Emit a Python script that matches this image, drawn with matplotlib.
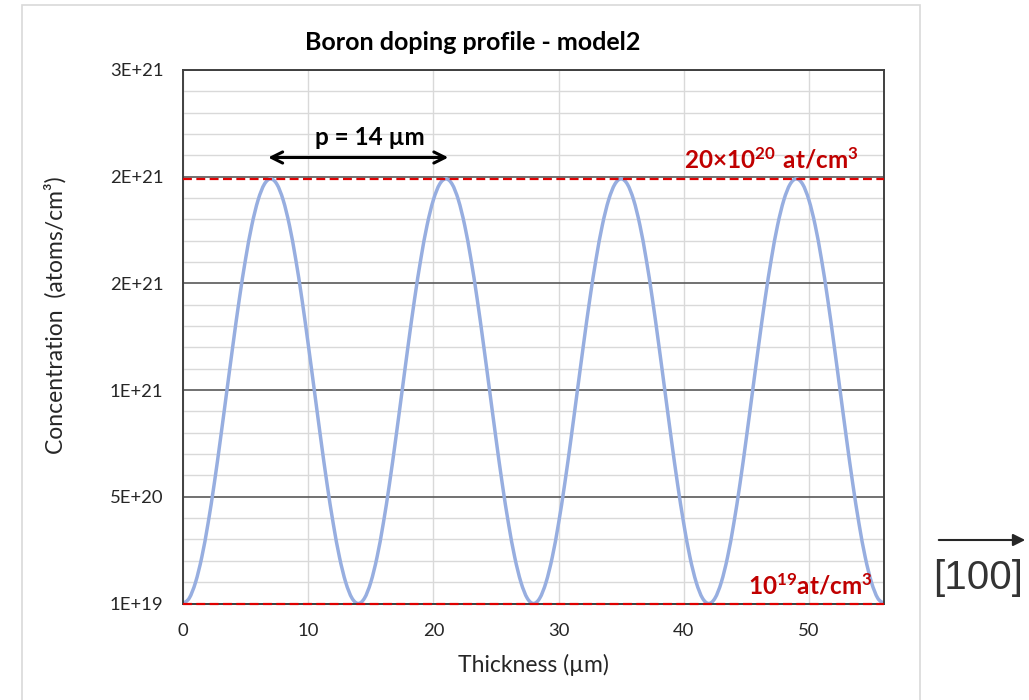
"""
Boron doping profile - model2: periodic concentration along the thickness.
"""

import numpy as np
import matplotlib
matplotlib.use("Agg")
import matplotlib.pyplot as plt
from matplotlib.patches import Rectangle, FancyArrowPatch, PathPatch
from matplotlib.path import Path
from matplotlib.ticker import FixedLocator

plt.rcParams["font.family"] = ["Lato", "DejaVu Sans"]
plt.rcParams["mathtext.fontset"] = "custom"
plt.rcParams["mathtext.rm"] = "Lato"
plt.rcParams["mathtext.bf"] = "Lato:bold"

# thickness sampled every 0.5 um
thickness = np.arange(0, 56.5, 0.5)

# concentration, in units of 1e20 atoms/cm3
conc_e20 = [
    0.10, 0.35, 1.09, 2.27, 3.85, 5.73, 7.84, 10.05, 12.26, 14.37, 16.25, 17.83, 19.01, 19.75,
    20.00, 19.75, 19.01, 17.83, 16.25, 14.37, 12.26, 10.05, 7.84, 5.73, 3.85, 2.27, 1.09, 0.35,
    0.10, 0.35, 1.09, 2.27, 3.85, 5.73, 7.84, 10.05, 12.26, 14.37, 16.25, 17.83, 19.01, 19.75,
    20.00, 19.75, 19.01, 17.83, 16.25, 14.37, 12.26, 10.05, 7.84, 5.73, 3.85, 2.27, 1.09, 0.35,
    0.10, 0.35, 1.09, 2.27, 3.85, 5.73, 7.84, 10.05, 12.26, 14.37, 16.25, 17.83, 19.01, 19.75,
    20.00, 19.75, 19.01, 17.83, 16.25, 14.37, 12.26, 10.05, 7.84, 5.73, 3.85, 2.27, 1.09, 0.35,
    0.10, 0.35, 1.09, 2.27, 3.85, 5.73, 7.84, 10.05, 12.26, 14.37, 16.25, 17.83, 19.01, 19.75,
    20.00, 19.75, 19.01, 17.83, 16.25, 14.37, 12.26, 10.05, 7.84, 5.73, 3.85, 2.27, 1.09, 0.35,
    0.10,
]
concentration = np.array(conc_e20) * 1e20

y_ticks = [1e19, 5.1e20, 1.01e21, 1.51e21, 2.01e21, 2.51e21]
y_tick_labels = ["1E+19", "5E+20", "1E+21", "2E+21", "2E+21", "3E+21"]
x_ticks = [0, 10, 20, 30, 40, 50]

c_max = 2e21
c_min = 1e19
period_start, period_end = 7, 21


def smooth_path(x, y):
    """Excel-like smoothed line: Catmull-Rom segments as cubic Beziers."""
    pts = np.column_stack([x, y])
    padded = np.vstack([pts[0], pts, pts[-1]])
    verts = [pts[0]]
    codes = [Path.MOVETO]
    for i in range(len(pts) - 1):
        p0, p1, p2, p3 = padded[i], padded[i + 1], padded[i + 2], padded[i + 3]
        verts += [p1 + (p2 - p0) / 6, p2 - (p3 - p1) / 6, p2]
        codes += [Path.CURVE4] * 3
    return Path(verts, codes)


fig = plt.figure(figsize=(10.29, 7), dpi=100)
ax = fig.add_axes([183 / 1029, 1 - 603.5 / 700, 701 / 1029, 533.5 / 700])

# outer chart frame
fig.patches.append(Rectangle((22 / 1029, -0.05), 898 / 1029, 1 - 5 / 700 + 0.05,
                             transform=fig.transFigure, fill=False,
                             edgecolor="#d9d9d9", linewidth=1.2, zorder=0))

ax.add_patch(PathPatch(smooth_path(thickness, concentration), fill=False,
                       edgecolor="#97aee0", linewidth=2.5, joinstyle="round",
                       zorder=3))

for level in (c_max, c_min):
    ax.axhline(level, color="#e00000", linestyle=(0, (4, 2)), linewidth=1.6,
               zorder=5, clip_on=False)

ax.set_xlim(0, 56)
ax.set_ylim(1e19, 2.51e21)
ax.yaxis.set_major_locator(FixedLocator(y_ticks))
ax.set_yticklabels(y_tick_labels)
ax.yaxis.set_minor_locator(FixedLocator([1e19 + i * 1e20 for i in range(26)]))
ax.xaxis.set_major_locator(FixedLocator(x_ticks))

ax.grid(which="major", axis="y", color="#595959", linewidth=1.2, zorder=1)
ax.grid(which="minor", axis="y", color="#d9d9d9", linewidth=1.0, zorder=0)
ax.grid(which="major", axis="x", color="#d9d9d9", linewidth=1.0, zorder=0)
ax.set_axisbelow(True)

ax.tick_params(which="both", length=0)
ax.tick_params(axis="y", pad=14, labelsize=13.3, labelcolor="#262626")
ax.tick_params(axis="x", pad=14, labelsize=13.3, labelcolor="#262626")
for s in ax.spines.values():
    s.set_color("#404040")
    s.set_linewidth(1.4)
    s.set_zorder(4)

ax.set_xlabel("Thickness (µm)", fontsize=16.5, color="#262626")
ax.xaxis.set_label_coords(0.5, -(654 - 603.5) / 533.5)
ax.set_ylabel("Concentration  (atoms/cm³)", fontsize=16.5, color="#262626")
ax.yaxis.set_label_coords(-(183 - 67) / 701, (603.5 - 315) / 533.5)

fig.text(473 / 1029, 1 - 43 / 700, "Boron doping profile - model2",
         ha="center", va="center", fontsize=18, fontweight="bold", color="#000000")

# period annotation
ax.annotate("", xy=(period_start - 0.2, 2.1e21), xytext=(period_end + 0.2, 2.1e21),
            arrowprops=dict(arrowstyle="<->", lw=2.2, color="black",
                            mutation_scale=20, shrinkA=0, shrinkB=0))
ax.text(14.9, 2.14e21, "p = 14 µm", ha="center", va="bottom",
        fontsize=17.5, fontweight="bold", color="black")

ax.text(40.0, 2.03e21, r"$\mathbf{20{\times}10^{20}\ at/cm^{3}}$",
        ha="left", va="bottom", fontsize=17.5, color="#c00000")
ax.text(55.1, 3.2e19, r"$\mathbf{10^{19}at/cm^{3}}$",
        ha="right", va="bottom", fontsize=17.5, color="#c00000")

# crystal direction arrow outside the chart
fig.patches.append(FancyArrowPatch(
    (936 / 1029, 1 - 540 / 700), (1028 / 1029, 1 - 540 / 700),
    transform=fig.transFigure, arrowstyle="-|>", mutation_scale=18,
    color="#262626", linewidth=1.5))
fig.text(978 / 1029, 1 - 578 / 700, "[100]", ha="center", va="center",
         fontsize=29, color="#333333", family="Liberation Sans")

fig.savefig("out.png", dpi=100)
